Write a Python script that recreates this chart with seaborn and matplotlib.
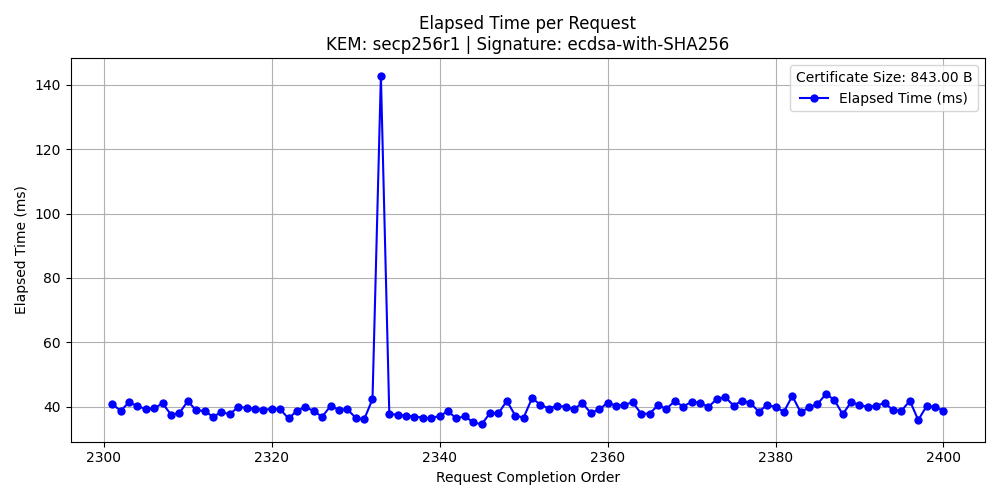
import matplotlib
matplotlib.use("Agg")
import matplotlib.pyplot as plt
import seaborn as sns
import pandas as pd

order = list(range(2301, 2401))
elapsed = [40.8, 38.7, 41.3, 40.2, 39.2, 39.5, 41.0, 37.5, 38.0, 41.7,
           38.8, 38.7, 36.8, 38.3, 37.6, 39.9, 39.6, 39.3, 39.0, 39.3,
           39.2, 36.3, 38.7, 39.9, 38.6, 36.8, 40.2, 39.0, 39.2, 36.5,
           36.0, 42.3, 142.9, 37.8, 37.4, 37.2, 36.9, 36.6, 36.3, 37.2,
           38.5, 36.3, 37.0, 35.1, 34.5, 38.0, 37.9, 41.8, 37.2, 36.6,
           42.6, 40.6, 39.4, 40.2, 40.0, 39.2, 41.1, 38.0, 39.1, 41.2,
           40.3, 40.6, 41.3, 37.8, 37.8, 40.4, 39.3, 41.7, 40.0, 41.5,
           41.2, 39.9, 42.3, 43.0, 40.3, 41.8, 41.2, 38.4, 40.5, 39.9,
           38.4, 43.3, 38.2, 39.8, 40.8, 43.9, 42.1, 37.6, 41.4, 40.5,
           39.9, 40.3, 41.1, 38.9, 38.7, 41.8, 35.8, 40.2, 39.9, 38.7]

df = pd.DataFrame({"order": order, "elapsed": elapsed})

fig, ax = plt.subplots(figsize=(10, 5), dpi=100)
sns.lineplot(data=df, x="order", y="elapsed", ax=ax, color="blue", marker="o",
             markersize=6, markeredgewidth=0, label="Elapsed Time (ms)")
ax.grid(True)
ax.set_title("Elapsed Time per Request\nKEM: secp256r1 | Signature: ecdsa-with-SHA256")
ax.set_xlabel("Request Completion Order")
ax.set_ylabel("Elapsed Time (ms)")
ax.legend(title="Certificate Size: 843.00 B", loc="upper right")
fig.tight_layout()
fig.savefig("out.png")
